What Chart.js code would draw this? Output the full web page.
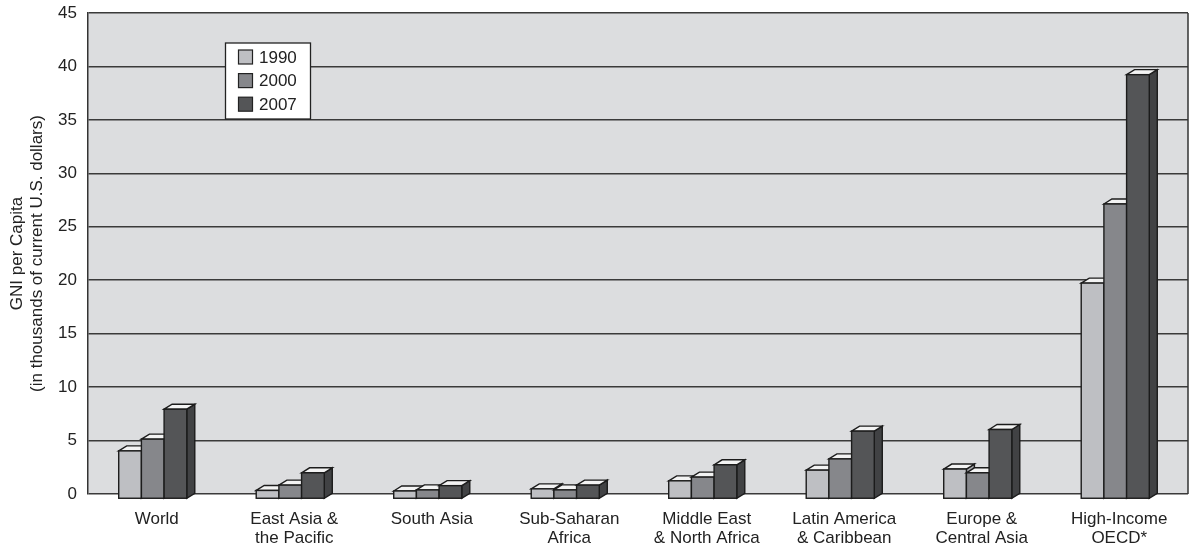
<!DOCTYPE html>
<html>
<head>
<meta charset="utf-8">
<script src="https://cdn.jsdelivr.net/npm/chart.js@4.4.1/dist/chart.umd.min.js"></script>
<style>
  html, body { margin: 0; padding: 0; background: #fff; }
  canvas { display: block; }
</style>
</head>
<body>
<canvas id="gniChart" width="1191" height="547"></canvas>
<script>
(function () {
    var regions = [
        'World',
        ['East Asia &', 'the Pacific'],
        'South Asia',
        ['Sub-Saharan', 'Africa'],
        ['Middle East', '& North Africa'],
        ['Latin America', '& Caribbean'],
        ['Europe &', 'Central Asia'],
        ['High-Income', 'OECD*']
    ];
    var years = ['1990', '2000', '2007'];

    // GNI per capita, thousands of current US dollars
    var gni1990 = [4.5, 0.8, 0.75, 0.95, 1.7, 2.7, 2.8, 20.2];
    var gni2000 = [5.6, 1.3, 0.85, 0.85, 2.05, 3.75, 2.45, 27.6];
    var gni2007 = [8.4, 2.45, 1.25, 1.3, 3.2, 6.35, 6.5, 39.7];

    var yTicks = [0, 5, 10, 15, 20, 25, 30, 35, 40, 45];

    var frontColors = ['#bebfc3', '#86878b', '#545557'];
    var sideColors = ['#a6a7ab', '#6f7073', '#414244'];
    var topColor = '#f3f3f3';
    var edgeColor = '#1c1c1c';

    var fontFamily = "'Liberation Sans', Arial, Helvetica, sans-serif";

    // fake depth of the columns: front face pushed down-left, back face up-right
    var shiftX = -4, shiftY = 5;
    var depthX = 8, depthY = -5;

    var plotBackground = {
        id: 'plotBackground',
        beforeDraw: function (chart) {
            var a = chart.chartArea, ctx = chart.ctx;
            ctx.save();
            ctx.fillStyle = '#dcdddf';
            ctx.fillRect(a.left, a.top, a.right - a.left, a.bottom - a.top);
            ctx.restore();
        }
    };

    var boxes3d = {
        id: 'boxes3d',
        beforeDatasetsDraw: function (chart) {
            var ctx = chart.ctx;
            ctx.save();
            ctx.lineWidth = 1.4;
            ctx.strokeStyle = edgeColor;
            ctx.lineJoin = 'miter';
            chart.data.datasets.forEach(function (ds, di) {
                var meta = chart.getDatasetMeta(di);
                meta.data.forEach(function (bar) {
                    var p = bar.getProps(['x', 'y', 'base', 'width'], true);
                    var l = p.x - p.width / 2 + shiftX;
                    var r = l + p.width;
                    var t = p.y + shiftY;
                    var b = p.base + shiftY;

                    // side
                    ctx.beginPath();
                    ctx.moveTo(r, t);
                    ctx.lineTo(r + depthX, t + depthY);
                    ctx.lineTo(r + depthX, b + depthY);
                    ctx.lineTo(r, b);
                    ctx.closePath();
                    ctx.fillStyle = sideColors[di];
                    ctx.fill();
                    ctx.stroke();

                    // top
                    ctx.beginPath();
                    ctx.moveTo(l, t);
                    ctx.lineTo(l + depthX, t + depthY);
                    ctx.lineTo(r + depthX, t + depthY);
                    ctx.lineTo(r, t);
                    ctx.closePath();
                    ctx.fillStyle = topColor;
                    ctx.fill();
                    ctx.stroke();

                    // front
                    ctx.fillStyle = ds.backgroundColor;
                    ctx.fillRect(l, t, r - l, b - t);
                    ctx.strokeRect(l, t, r - l, b - t);
                });
            });
            ctx.restore();
            return false;
        }
    };

    var frameAndLegend = {
        id: 'frameAndLegend',
        afterDraw: function (chart) {
            var a = chart.chartArea, ctx = chart.ctx;
            ctx.save();
            ctx.strokeStyle = '#333';
            ctx.lineWidth = 1.5;
            ctx.beginPath();
            ctx.moveTo(a.right, a.top);
            ctx.lineTo(a.right, a.bottom);
            ctx.stroke();

            // legend box
            var lx = 225.5, ly = 43, lw = 85, lh = 76;
            ctx.fillStyle = '#fff';
            ctx.fillRect(lx, ly, lw, lh);
            ctx.strokeStyle = '#222';
            ctx.lineWidth = 1.3;
            ctx.strokeRect(lx, ly, lw, lh);
            ctx.font = '17px ' + fontFamily;
            ctx.textBaseline = 'middle';
            ctx.textAlign = 'left';
            chart.data.datasets.forEach(function (ds, i) {
                var cy = 57 + i * 23.6;
                ctx.fillStyle = ds.backgroundColor;
                ctx.fillRect(238.5, cy - 7, 14, 14);
                ctx.strokeStyle = '#222';
                ctx.lineWidth = 1.2;
                ctx.strokeRect(238.5, cy - 7, 14, 14);
                ctx.fillStyle = '#222';
                ctx.fillText(ds.label, 259, cy + 1);
            });
            ctx.restore();
        }
    };

    new Chart(document.getElementById('gniChart'), {
        type: 'bar',
        data: {
            labels: regions,
            datasets: [
                { label: years[0], data: gni1990, backgroundColor: frontColors[0] },
                { label: years[1], data: gni2000, backgroundColor: frontColors[1] },
                { label: years[2], data: gni2007, backgroundColor: frontColors[2] }
            ]
        },
        options: {
            responsive: false,
            animation: false,
            devicePixelRatio: 1,
            layout: { padding: { top: 13, right: 3, left: 0, bottom: 0 } },
            datasets: {
                bar: { categoryPercentage: 0.495, barPercentage: 1.0, borderWidth: 0 }
            },
            plugins: {
                legend: { display: false },
                tooltip: { enabled: false }
            },
            scales: {
                x: {
                    grid: { display: false, drawTicks: false },
                    border: { display: false },
                    ticks: {
                        color: '#222',
                        padding: 16,
                        maxRotation: 0,
                        autoSkip: false,
                        font: { family: fontFamily, size: 17, lineHeight: 1.12 }
                    },
                    afterFit: function (s) {
                        s.height = 53;
                        s.paddingLeft = 0;
                        s.paddingRight = 0;
                    }
                },
                y: {
                    min: 0,
                    max: 45,
                    afterBuildTicks: function (s) {
                        s.ticks = yTicks.map(function (v) { return { value: v }; });
                    },
                    grid: { color: '#3a3a3a', lineWidth: 1.5, drawTicks: false },
                    border: { display: true, color: '#333', width: 1.5 },
                    ticks: {
                        color: '#222',
                        padding: 11,
                        font: { family: fontFamily, size: 17 }
                    },
                    title: {
                        display: true,
                        text: ['GNI per Capita', '(in thousands of current U.S. dollars)'],
                        color: '#222',
                        padding: { top: 7, bottom: 0 },
                        font: { family: fontFamily, size: 17, lineHeight: 1.2 }
                    },
                    afterFit: function (s) {
                        s.width = 88;
                        s.paddingTop = 0;
                        s.paddingBottom = 0;
                    }
                }
            }
        },
        plugins: [plotBackground, boxes3d, frameAndLegend]
    });
})();
</script>
</body>
</html>
